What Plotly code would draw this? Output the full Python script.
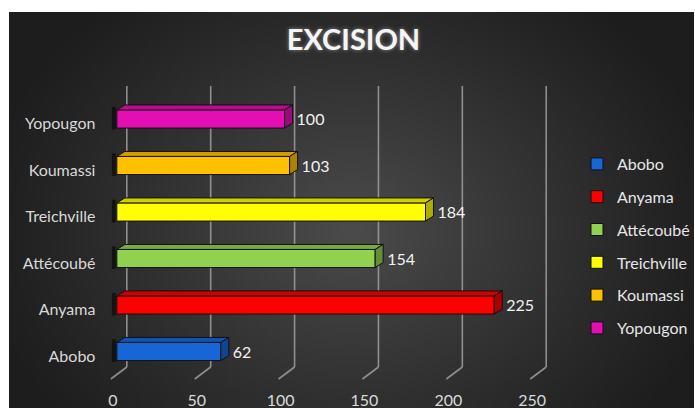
import base64, struct, zlib
import plotly.graph_objects as go

# ---------------- data ----------------
categories = ["Abobo", "Anyama", "Attécoubé", "Treichville", "Koumassi", "Yopougon"]
values = [62, 225, 154, 184, 103, 100]
colors = ["#1766d6", "#ff0000", "#92d050", "#ffff00", "#ffc000", "#e30fb2"]
x_ticks = [0, 50, 100, 150, 200, 250]
title_text = "EXCISION"

W, H = 695, 408
FONT = "Lato"

# ---------------- background gradient (generated PNG) ----------------
def make_png(w, h):
    rows = []
    for j in range(h):
        v = j / (h - 1)
        row = bytearray()
        for i in range(w):
            u = i / (w - 1)
            dx = (u - 0.5) / 0.56
            dy = (v - 0.55) / 0.78
            r = (dx * dx + dy * dy) ** 0.5
            t = max(0.0, 1.0 - r)
            c = int(29 + (76 - 29) * t ** 1.1)
            row.append(c)
        rows.append(b"\x00" + bytes(row))
    raw = b"".join(rows)

    def chunk(tag, data):
        return struct.pack(">I", len(data)) + tag + data + struct.pack(">I", zlib.crc32(tag + data) & 0xffffffff)

    png = b"\x89PNG\r\n\x1a\n"
    png += chunk(b"IHDR", struct.pack(">IIBBBBB", w, h, 8, 0, 0, 0, 0))
    png += chunk(b"IDAT", zlib.compress(raw, 9))
    png += chunk(b"IEND", b"")
    return "data:image/png;base64," + base64.b64encode(png).decode()

bg_src = make_png(172, 100)

# ---------------- geometry helpers ----------------
PX_X = 1.68      # pixels per value unit
PX_Y = 46.5      # pixels per category step
bar_w = 0.39
depth_x = 8 / PX_X
depth_y = 5 / PX_Y
label_gap = 4 / PX_X

def shade(hexcol, f):
    h = hexcol.lstrip("#")
    r, g, b = (int(h[k:k + 2], 16) for k in (0, 2, 4))
    return "rgb(%d,%d,%d)" % (int(r * f), int(g * f), int(b * f))

fig = go.Figure()

# soft shadows at the left end of each bar
for i, cat in enumerate(categories):
    fig.add_trace(go.Bar(
        x=[4 / PX_X], base=[-5 / PX_X], y=[i + 0.02], orientation="h", width=bar_w + 0.1,
        marker=dict(color="rgba(0,0,0,0.55)", line=dict(width=0)),
        showlegend=False, hoverinfo="skip",
    ))

# bars (front faces)
for i, (cat, val, col) in enumerate(zip(categories, values, colors)):
    fig.add_trace(go.Bar(
        x=[val], y=[i], orientation="h", width=bar_w,
        marker=dict(color=col, line=dict(color="#111111", width=1)),
        name=cat, legendgroup=cat, showlegend=True, hoverinfo="skip",
    ))

# 3D top and side faces
for i, (cat, val, col) in enumerate(zip(categories, values, colors)):
    top = i + bar_w / 2
    bot = i - bar_w / 2
    fig.add_trace(go.Scatter(
        x=[0, val, val + depth_x, depth_x, 0],
        y=[top, top, top + depth_y, top + depth_y, top],
        mode="lines", fill="toself", fillcolor=shade(col, 0.82),
        line=dict(color="#111111", width=1), showlegend=False,
        legendgroup=cat, hoverinfo="skip",
    ))
    fig.add_trace(go.Scatter(
        x=[val, val + depth_x, val + depth_x, val, val],
        y=[bot, bot + depth_y, top + depth_y, top, bot],
        mode="lines", fill="toself", fillcolor=shade(col, 0.68),
        line=dict(color="#111111", width=1), showlegend=False,
        legendgroup=cat, hoverinfo="skip",
    ))

# value labels
fig.add_trace(go.Scatter(
    x=[v + depth_x + label_gap for v in values], y=[i - 0.05 for i in range(len(values))],
    mode="text", text=[str(v) for v in values], textposition="middle right",
    textfont=dict(family=FONT, size=16, color="#f2f2f2"),
    showlegend=False, hoverinfo="skip", cliponaxis=False,
))

# back-wall gridlines with floor diagonals
grid_back = 10 / PX_X
grid_front = -6 / PX_X
y_top = (351.5 - 86) / PX_Y
y_floor = (351.5 - 367) / PX_Y
y_front = (351.5 - 379) / PX_Y
shapes = []
for t in x_ticks:
    shapes.append(dict(type="line", xref="x", yref="y", layer="below",
                       x0=t + grid_back, x1=t + grid_back, y0=y_top, y1=y_floor,
                       line=dict(color="rgba(160,160,160,0.85)", width=1.6)))
    shapes.append(dict(type="line", xref="x", yref="y", layer="below",
                       x0=t + grid_back, x1=t + grid_front, y0=y_floor, y1=y_front,
                       line=dict(color="rgba(160,160,160,0.85)", width=1.6)))

# axis geometry
x_min, x_max = -5, 260
y_min, y_max = -0.8, 5.8
x0_px = 117
left_px = x0_px + x_min * PX_X
right_px = x0_px + x_max * PX_X
bottom_px = 351.5 - y_min * PX_Y
top_px = 351.5 - y_max * PX_Y

fig.update_layout(
    width=W, height=H,
    margin=dict(l=0, r=0, t=0, b=0),
    paper_bgcolor="white",
    plot_bgcolor="rgba(0,0,0,0)",
    barmode="overlay",
    shapes=shapes,
    images=[dict(source=bg_src, xref="paper", yref="paper",
                 x=9 / W, y=1 - 12 / H, sizex=1 - 9 / W, sizey=1 - 12 / H,
                 xanchor="left", yanchor="top", sizing="stretch", layer="below")],
    title=dict(text="<b>%s</b>" % title_text, x=354 / W, xanchor="center",
               y=1 - 40 / H, yanchor="middle", xref="paper", yref="paper",
               font=dict(family=FONT, size=29, color="#f5f5f5",
                         shadow="0px 0px 4px rgba(255,255,255,0.45)")),
    xaxis=dict(domain=[left_px / W, right_px / W], range=[x_min, x_max],
               tickvals=x_ticks, ticktext=[str(t) for t in x_ticks],
               showgrid=False, zeroline=False, showline=False, ticks="",
               tickfont=dict(family=FONT, size=16, color="#d9d9d9"),
               ticklabelshift=-4, ticklabelstandoff=0, fixedrange=True),
    yaxis=dict(domain=[1 - bottom_px / H, 1 - top_px / H], range=[y_min, y_max],
               tickvals=[i - 0.1 for i in range(len(categories))],
               ticktext=categories,
               showgrid=False, zeroline=False, showline=False, ticks="",
               tickfont=dict(family=FONT, size=16, color="#d9d9d9"),
               ticklabelstandoff=12, fixedrange=True),
    legend=dict(x=578 / W, xanchor="left", y=1 - 147 / H, yanchor="top",
                traceorder="grouped", tracegroupgap=9,
                font=dict(family=FONT, size=16, color="#e6e6e6"),
                bgcolor="rgba(0,0,0,0)"),
    showlegend=True,
)

fig.write_html("out.html")
